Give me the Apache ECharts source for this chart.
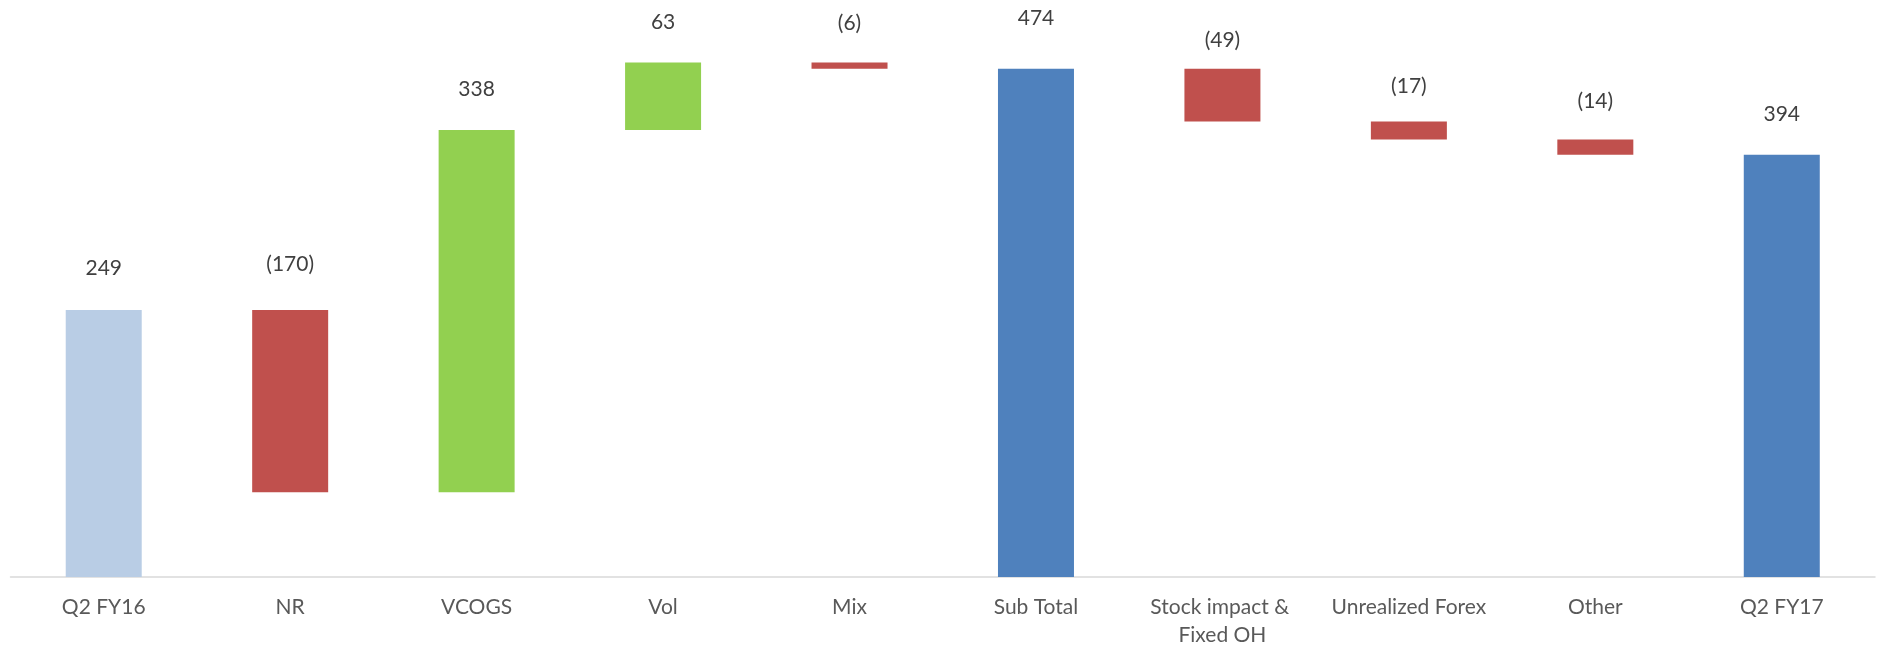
<!DOCTYPE html>
<html>
<head>
<meta charset="utf-8">
<title>Q2 FY16 to Q2 FY17 bridge</title>
<script src="https://cdn.jsdelivr.net/npm/echarts@6/dist/echarts.min.js"></script>
<style>
  html, body { margin: 0; padding: 0; background: #ffffff; }
  #chart { width: 1881px; height: 649px; }
</style>
</head>
<body>
<div id="chart"></div>
<script>
// Bridge steps, in order
const categories = ['Q2 FY16', 'NR', 'VCOGS', 'Vol', 'Mix', 'Sub Total',
  'Stock impact & Fixed OH', 'Unrealized Forex', 'Other', 'Q2 FY17'];
// 'start' = opening value, 'delta' = change, 'total' = running total bar
const stepKinds = ['start', 'delta', 'delta', 'delta', 'delta', 'total',
  'delta', 'delta', 'delta', 'total'];
// Opening value and changes (totals are computed from the running sum)
const stepValues = [249, -170, 338, 63, -6, 474, -49, -17, -14, 394];

// Label spacing above each bar, in px
const labelGap = [42, 46, 41, 40, 39, 51, 29, 35, 38, 40];

const COLORS = {
  start: '#B9CDE5',
  total: '#4F81BD',
  up: '#92D050',
  down: '#C0504D'
};

// Build invisible base + visible segment for a stacked waterfall
const base = [];
const segs = [];
let running = 0;
stepKinds.forEach(function (kind, i) {
  const v = stepValues[i];
  let lo, hi, color, text;
  if (kind === 'start') {
    running = v;
    lo = 0; hi = v; color = COLORS.start; text = String(v);
  } else if (kind === 'total') {
    lo = 0; hi = running; color = COLORS.total; text = String(running);
  } else {
    const next = running + v;
    lo = Math.min(running, next);
    hi = Math.max(running, next);
    color = v >= 0 ? COLORS.up : COLORS.down;
    text = v < 0 ? '(' + Math.abs(v) + ')' : String(v);
    running = next;
  }
  base.push(lo);
  segs.push({
    value: hi - lo,
    itemStyle: { color: color },
    label: { formatter: text, distance: labelGap[i] - 12 }
  });
});

const chart = echarts.init(document.getElementById('chart'), null, { renderer: 'canvas' });
chart.setOption({
  animation: false,
  backgroundColor: '#ffffff',
  textStyle: { fontFamily: 'Lato' },
  grid: { left: 10.5, right: 6, top: 41, bottom: 72, containLabel: false },
  xAxis: {
    type: 'category',
    data: categories,
    axisLine: { show: true, lineStyle: { color: '#D9D9D9', width: 1.5 } },
    axisTick: { show: false },
    axisLabel: {
      color: '#595959',
      fontFamily: 'Lato',
      fontSize: 21,
      lineHeight: 28,
      margin: 16,
      interval: 0,
      width: 176,
      overflow: 'break'
    }
  },
  yAxis: {
    type: 'value',
    min: 0,
    max: 500,
    show: false,
    splitLine: { show: false }
  },
  series: [
    {
      name: 'base',
      type: 'bar',
      stack: 'wf',
      barWidth: 76,
      silent: true,
      itemStyle: { color: 'rgba(0,0,0,0)' },
      data: base
    },
    {
      name: 'value',
      type: 'bar',
      stack: 'wf',
      barWidth: 76,
      label: {
        show: true,
        position: 'top',
        color: '#404040',
        fontFamily: 'Lato',
        fontSize: 21,
        lineHeight: 24
      },
      data: segs
    }
  ]
});
</script>
</body>
</html>
